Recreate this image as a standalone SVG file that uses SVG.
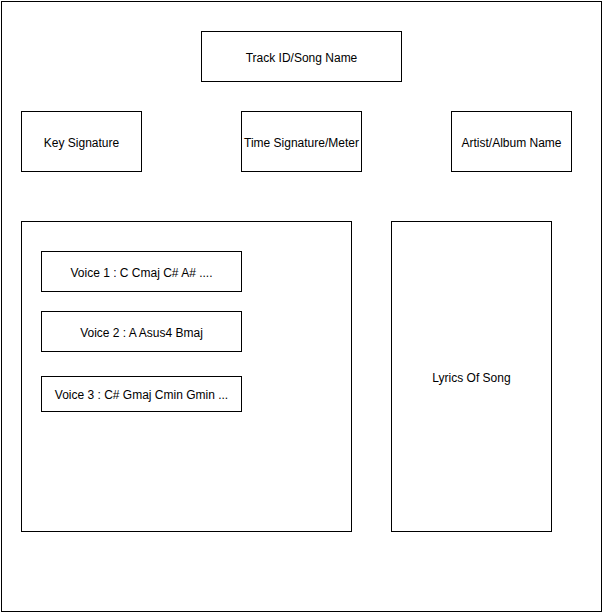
<svg xmlns="http://www.w3.org/2000/svg" width="603" height="613" viewBox="0 0 603 613">
<style>
rect{fill:#fff;stroke:#000;stroke-width:1}
text{font-family:"Liberation Sans",Arial,sans-serif;font-size:12px;fill:#000;text-anchor:middle;dominant-baseline:central}
</style>
<rect x="0" y="0" width="603" height="613" style="stroke:none"/>
<g id="frame"><rect x="1.5" y="1.5" width="600" height="610"/></g>
<g id="track"><rect x="201.5" y="31.5" width="200" height="50"/><text x="301.5" y="58">Track ID/Song Name</text></g>
<g id="key"><rect x="21.5" y="111.5" width="120" height="60"/><text x="81.5" y="143">Key Signature</text></g>
<g id="time"><rect x="241.5" y="111.5" width="120" height="60"/><text x="301.5" y="143">Time Signature/Meter</text></g>
<g id="artist"><rect x="451.5" y="111.5" width="120" height="60"/><text x="511.5" y="143">Artist/Album Name</text></g>
<g id="voices"><rect x="21.5" y="221.5" width="330" height="310"/></g>
<g id="voice1"><rect x="41.5" y="251.5" width="200" height="40"/><text x="141.5" y="273">Voice 1 : C Cmaj C# A# ....</text></g>
<g id="voice2"><rect x="41.5" y="311.5" width="200" height="40"/><text x="141.5" y="333">Voice 2 : A Asus4 Bmaj</text></g>
<g id="voice3"><rect x="41.5" y="376.5" width="200" height="35"/><text x="141.5" y="395">Voice 3 : C# Gmaj Cmin Gmin ...</text></g>
<g id="lyrics"><rect x="391.5" y="221.5" width="160" height="310"/><text x="471.5" y="378">Lyrics Of Song</text></g>
<g id="connectors"></g>
</svg>
